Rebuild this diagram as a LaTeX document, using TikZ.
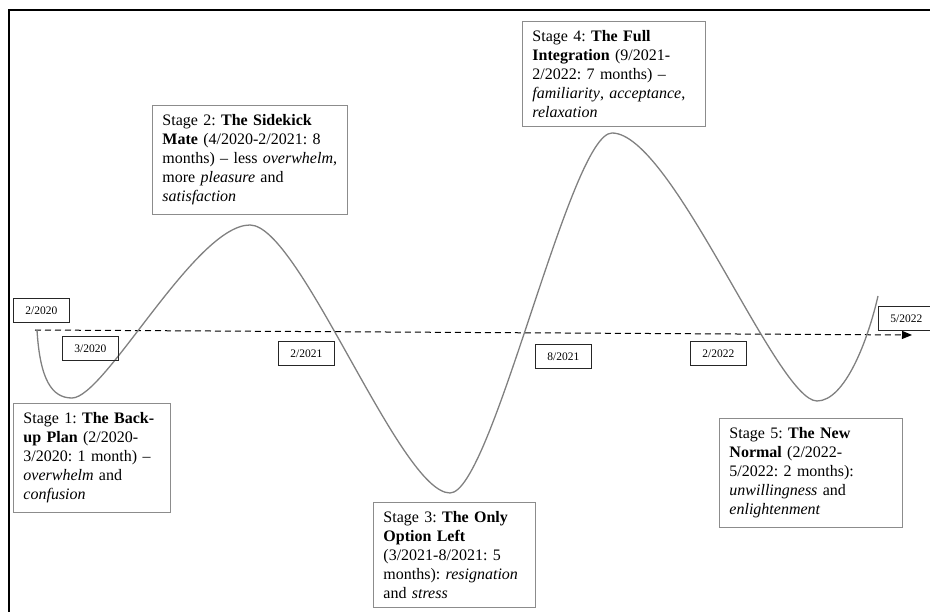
\documentclass[tikz,border=0pt]{standalone}
\usepackage{fontspec}
\setmainfont{Liberation Serif}
\usetikzlibrary{arrows.meta}
\frenchspacing
\tikzset{
  stagebox/.style={draw=black!45, line width=0.9pt, align=left, inner xsep=10pt, inner ysep=9pt,
    font=\fontsize{16}{19}\selectfont, anchor=north west},
  datebox/.style={draw=black!85, line width=0.8pt, minimum width=56pt, minimum height=24pt,
    inner sep=0pt, font=\fontsize{11.5}{13}\selectfont, anchor=north west},
  wave/.style={draw=black!50, line width=1.3pt},
  timeline/.style={line width=1pt, dash pattern=on 6pt off 4pt, -{Triangle[length=10pt,width=8pt]}}
}
\begin{document}
\begin{tikzpicture}[x=1pt,y=-1pt]
              \useasboundingbox (0,0) rectangle (930,612);
              \draw[line width=1.6pt] (9,612) -- (9,10) -- (930,10);

              \coordinate (tstart) at (35,330);
              \coordinate (tend) at (912,335);
              \draw[timeline] (tstart) -- (tend);

              \draw[wave] (37,330) .. controls (40,380) and (52,398) .. (72,398)
                .. controls (105,398) and (195,225) .. (250,225)
                .. controls (300,225) and (400,493) .. (450,493)
                .. controls (492,493) and (570,133) .. (612,133)
                .. controls (672,133) and (777,401) .. (817,401)
                .. controls (845,401) and (868,340) .. (878,296);

              \node[datebox] (d1) at (13,298) {2/2020};
              \node[datebox] (d2) at (62,336) {3/2020};
              \node[datebox] (d3) at (278,341) {2/2021};
              \node[datebox] (d4) at (535,344) {8/2021};
              \node[datebox] (d5) at (690,341) {2/2022};
              \node[datebox] (d6) at (878,306) {5/2022};

              \node[stagebox, text width=137pt] (s1) at (13,403)
                {Stage 1: \textbf{The Back-}\\ \textbf{up Plan} (2/2020-\\ 3/2020: 1 month) --\\ \textit{overwhelm} and\\ \textit{confusion}};
              \node[stagebox, text width=175pt] (s2) at (152,105)
                {Stage 2: \textbf{The Sidekick}\\ \textbf{Mate} (4/2020-2/2021: 8\\ months) -- less \textit{overwhelm},\\ more \textit{pleasure} and\\ \textit{satisfaction}};
              \node[stagebox, text width=142pt] (s3) at (373,502)
                {Stage 3: \textbf{The Only}\\ \textbf{Option Left}\\ (3/2021-8/2021: 5\\ months): \textit{resignation}\\ and \textit{stress}};
              \node[stagebox, text width=163pt] (s4) at (522,21)
                {Stage 4: \textbf{The Full}\\ \textbf{Integration} (9/2021-\\ 2/2022: 7 months) --\\ \textit{familiarity}, \textit{acceptance},\\ \textit{relaxation}};
              \node[stagebox, text width=163pt] (s5) at (719,418)
                {Stage 5: \textbf{The New}\\ \textbf{Normal} (2/2022-\\ 5/2022: 2 months):\\ \textit{unwillingness} and\\ \textit{enlightenment}};
        \end{tikzpicture}
\end{document}
